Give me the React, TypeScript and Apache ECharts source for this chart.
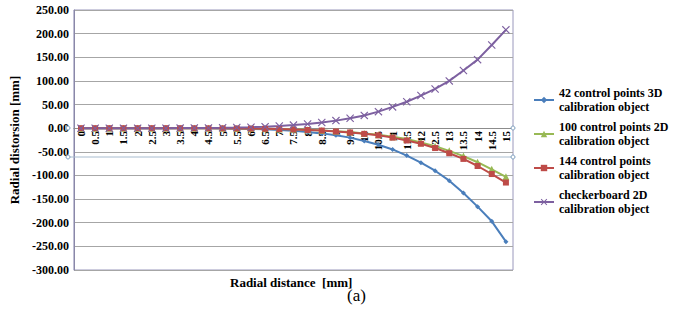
import React, { useEffect, useRef } from "react";
import * as echarts from "echarts";

const categories = ["0","0.5","1","1.5","2","2.5","3","3.5","4","4.5","5","5.5","6","6.5","7","7.5","8","8.5","9","9.5","10","10.5","11","11.5","12","12.5","13","13.5","14","14.5","15"];

const yTicks = { min: -300, max: 250, interval: 50 };

const series3D42 = [0,0,0,0,0,0,0,-0.1,-0.2,-0.4,-0.6,-1,-1.6,-2.5,-3.8,-5.5,-8,-11,-15,-20,-27,-35,-45,-58,-73,-90,-111,-137,-166,-197,-240];
const series2D100 = [0,0,0,0,0,0,0,0,-0.1,-0.2,-0.3,-0.5,-0.8,-1.2,-1.7,-2.5,-3.5,-4.7,-6.3,-8.3,-11,-14,-18,-23,-30,-38,-48,-59,-72,-87,-103];
const series144 = [0,0,0,0,0,0,0,0,-0.1,-0.2,-0.3,-0.5,-0.8,-1.3,-1.9,-2.7,-3.8,-5,-7,-9,-12,-15,-20,-26,-33,-42,-53,-65,-80,-97,-115];
const seriesChecker = [0,0,0,0,0,0,0.1,0.2,0.3,0.5,0.9,1.4,2.1,3.2,4.6,6.5,9,12,16,21,27,35,45,56,69,83,100,122,145,176,208];

const names = [
  "42 control points 3D\ncalibration object",
  "100 control points 2D\ncalibration object",
  "144 control points\ncalibration object",
  "checkerboard 2D\ncalibration object",
];

const SERIF = "Liberation Serif";
const X_PATH = "path://M0,1 L1,0 L5,4 L9,0 L10,1 L6,5 L10,9 L9,10 L5,6 L1,10 L0,9 L4,5 Z";

export default function App() {
  const ref = useRef<HTMLDivElement>(null);
  useEffect(() => {
    if (!ref.current) return;
    const chart = echarts.init(ref.current, undefined, { renderer: "svg" });
    const mk = (name: string, data: number[], color: string, symbol: string, size: number) => ({
      type: "line",
      name,
      data,
      symbol,
      symbolSize: size,
      showSymbol: true,
      lineStyle: { color, width: 2 },
      itemStyle: { color },
      emphasis: { disabled: true },
    });
    chart.setOption({
      animation: false,
      backgroundColor: "#ffffff",
      textStyle: { fontFamily: SERIF },
      grid: {
        left: 68, right: 170, top: 10, bottom: 51,
        show: true, borderColor: "#9a98bc", borderWidth: 1,
      },
      legend: {
        orient: "vertical",
        left: 533,
        top: 79,
        padding: 0,
        itemGap: -8,
        itemWidth: 20,
        itemHeight: 8,
        textStyle: {
          fontFamily: SERIF, fontWeight: "bold", fontSize: 12, color: "#000",
          lineHeight: 14, padding: [14, 0, 0, 0],
        },
        data: names,
      },
      xAxis: {
        type: "category",
        data: categories,
        boundaryGap: true,
        position: "bottom",
        offset: -142,
        axisLine: { onZero: false, lineStyle: { color: "#8c8c8c", width: 1 } },
        axisTick: { show: false },
        axisLabel: {
          interval: 0, rotate: 90, margin: 3,
          fontFamily: SERIF, fontWeight: "bold", fontSize: 11, color: "#000",
        },
        splitLine: { show: false },
      },
      yAxis: {
        type: "value",
        min: yTicks.min, max: yTicks.max, interval: yTicks.interval,
        name: "Radial distorsion [mm]",
        nameLocation: "middle",
        nameGap: 44,
        nameTextStyle: { fontFamily: SERIF, fontWeight: "bold", fontSize: 13, color: "#000" },
        axisLine: { show: true, lineStyle: { color: "#8a88a8" } },
        axisTick: { show: false },
        axisLabel: {
          margin: 5, fontFamily: SERIF, fontWeight: "bold", fontSize: 12, color: "#000",
          formatter: (v: number) => v.toFixed(2),
        },
        splitLine: { lineStyle: { color: "#a6a6a6", width: 1 } },
      },
      graphic: [
        { type: "line", shape: { x1: 68, y1: 157, x2: 513, y2: 157 }, style: { stroke: "#a8bccf", lineWidth: 1 }, z: 1 },
        { type: "circle", shape: { cx: 68, cy: 128, r: 2 }, style: { fill: "#fff", stroke: "#7fa0bf", lineWidth: 1 }, z: 10 },
        { type: "circle", shape: { cx: 513, cy: 128, r: 2 }, style: { fill: "#fff", stroke: "#7fa0bf", lineWidth: 1 }, z: 10 },
        { type: "circle", shape: { cx: 68, cy: 157, r: 2 }, style: { fill: "#fff", stroke: "#7fa0bf", lineWidth: 1 }, z: 10 },
        { type: "circle", shape: { cx: 513, cy: 157, r: 2 }, style: { fill: "#fff", stroke: "#7fa0bf", lineWidth: 1 }, z: 10 },
        {
          type: "text", left: 230, top: 276,
          style: { text: "Radial distance  [mm]", fontFamily: SERIF, fontWeight: "bold", fontSize: 13, fill: "#000" },
        },
        {
          type: "text", left: 347, top: 287,
          style: { text: "(a)", fontFamily: SERIF, fontSize: 17, fill: "#000" },
        },
      ],
      series: [
        mk(names[0], series3D42, "#4a7ebb", "diamond", 5),
        mk(names[1], series2D100, "#98b954", "triangle", 7),
        mk(names[2], series144, "#be4b48", "rect", 6),
        mk(names[3], seriesChecker, "#7d60a0", X_PATH, 8),
      ],
    });
    return () => chart.dispose();
  }, []);
  return (
    <div
      ref={ref}
      style={{ position: "fixed", left: 0, top: 0, width: 683, height: 321, background: "#fff" }}
    />
  );
}
